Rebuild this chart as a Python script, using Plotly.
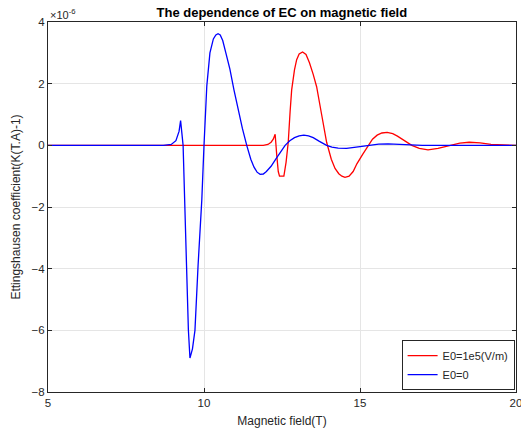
import plotly.graph_objects as go

# Magnetic field (T) and Ettingshausen coefficient (units of 1e-6 K/(T.A))
blue_x = [5, 8.7, 8.95, 9.1, 9.2, 9.25, 9.33, 9.39, 9.44, 9.5, 9.55, 9.63, 9.71, 9.81, 9.93, 10.0,
          10.09, 10.19, 10.3, 10.38, 10.45, 10.52, 10.6, 10.7, 10.83, 10.96, 11.09, 11.23, 11.37,
          11.5, 11.6, 11.7, 11.8, 11.9, 12.0, 12.15, 12.3, 12.45, 12.6, 12.75, 12.9, 13.05, 13.2,
          13.35, 13.5, 13.7, 13.93, 14.1, 14.3, 14.57, 14.8, 15.0, 15.3, 15.6, 15.9, 16.2, 16.6,
          17.0, 18.0, 19.0, 20.0]
blue_y = [0, 0, 0.03, 0.15, 0.45, 0.8, 0.0, -1.76, -3.9, -6.0, -6.9, -6.6, -6.0, -3.9, -1.76, 0.0,
          1.93, 3.0, 3.45, 3.58, 3.62, 3.58, 3.4, 3.0, 2.47, 1.8, 1.17, 0.55, 0.0,
          -0.45, -0.7, -0.87, -0.94, -0.93, -0.85, -0.68, -0.45, -0.22, 0.0, 0.15, 0.25, 0.31, 0.33,
          0.31, 0.25, 0.13, 0.0, -0.06, -0.09, -0.1, -0.08, -0.04, 0.0, 0.04, 0.05, 0.03, 0.01,
          0.0, 0.0, 0.0, 0.0]

red_x = [5, 11.9, 12.05, 12.15, 12.22, 12.28, 12.33, 12.38, 12.42, 12.5, 12.56, 12.63, 12.7,
         12.76, 12.81, 12.9, 12.97, 13.05, 13.16, 13.27, 13.38, 13.5, 13.61, 13.77, 13.93, 14.08,
         14.2, 14.32, 14.42, 14.52, 14.65, 14.78, 14.9, 15.08, 15.26, 15.4, 15.55, 15.7, 15.87,
         16.05, 16.2, 16.45, 16.66, 16.9, 17.18, 17.5, 17.88, 18.2, 18.5, 18.85, 19.2, 19.6, 20.0]
red_y = [0, 0, 0.03, 0.1, 0.2, 0.36, -0.3, -0.85, -1.0, -1.0, -1.0, -0.55, 0.1,
         1.1, 1.8, 2.45, 2.78, 2.96, 3.03, 2.95, 2.68, 2.3, 1.9, 1.0, 0.1, -0.45,
         -0.75, -0.92, -1.0, -1.04, -1.0, -0.85, -0.6, -0.3, 0.0, 0.2, 0.33, 0.4, 0.42,
         0.38, 0.3, 0.14, 0.0, -0.1, -0.15, -0.1, 0.0, 0.07, 0.1, 0.08, 0.03, 0.01, 0.0]

x_ticks = [5, 10, 15, 20]
y_ticks = [-8, -6, -4, -2, 0, 2, 4]

fig = go.Figure()
fig.add_trace(go.Scatter(x=red_x, y=red_y, mode="lines", name="E0=1e5(V/m)",
                         line=dict(color="#ff0000", width=1.3)))
fig.add_trace(go.Scatter(x=blue_x, y=blue_y, mode="lines", name="E0=0",
                         line=dict(color="#0000ff", width=1.3)))

axis_common = dict(showline=True, linecolor="#262626", linewidth=1, mirror="ticks",
                   ticks="inside", ticklen=4, tickcolor="#262626",
                   showgrid=True, gridcolor="#e5e5e5", gridwidth=1, zeroline=False,
                   ticklabeloverflow="allow", automargin=False,
                   tickfont=dict(family="Arial, Liberation Sans", size=11.5, color="#262626"))

fig.update_layout(
    width=521, height=443,
    margin=dict(l=48, r=5, t=22, b=51),
    paper_bgcolor="white", plot_bgcolor="white",
    title=dict(text="<b>The dependence of EC on magnetic field</b>", x=0.541, xanchor="center",
               y=0.982, yanchor="top",
               font=dict(family="Arial, Liberation Sans", size=13, color="black")),
    xaxis=dict(range=[5, 20], tickvals=x_ticks, **axis_common,
               title=dict(text="Magnetic field(T)", standoff=8,
                          font=dict(family="Arial, Liberation Sans", size=12, color="#262626"))),
    yaxis=dict(range=[-8, 4], tickvals=y_ticks, **axis_common,
               title=dict(text="Ettingshausen coefficient(K(T.A)-1)", standoff=8,
                          font=dict(family="Arial, Liberation Sans", size=12, color="#262626"))),
    legend=dict(x=0.997, y=0.005, xanchor="right", yanchor="bottom",
                bgcolor="white", bordercolor="#262626", borderwidth=1,
                font=dict(family="Arial, Liberation Sans", size=11, color="#262626"),
                tracegroupgap=0, itemwidth=30),
    showlegend=True,
    annotations=[dict(text="×10<sup>-6</sup>", xref="paper", yref="paper", x=0, y=1,
                      xanchor="left", yanchor="bottom", showarrow=False, yshift=-1,
                      font=dict(family="Arial, Liberation Sans", size=11, color="#262626"))],
)

fig.write_html("out.html")
